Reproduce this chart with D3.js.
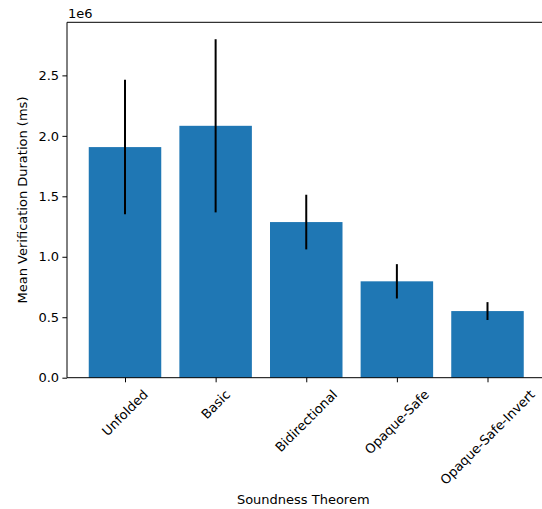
<!DOCTYPE html>
<html>
<head>
<meta charset="utf-8">
<script src="https://cdn.jsdelivr.net/npm/d3@7"></script>
<style>
  html, body { margin: 0; padding: 0; background: #fff; }
  svg { display: block; }
  text { font-family: "DejaVu Sans", sans-serif; fill: #000; }
</style>
</head>
<body>
<svg id="chart" width="542" height="509"></svg>
<script>
const categories = ["Unfolded", "Basic", "Bidirectional", "Opaque-Safe", "Opaque-Safe-Invert"];
const means = [1.907e6, 2.083e6, 1.287e6, 0.797e6, 0.551e6];
const errors = [0.556e6, 0.716e6, 0.226e6, 0.142e6, 0.074e6];
const yTicks = [0, 0.5e6, 1.0e6, 1.5e6, 2.0e6, 2.5e6];
const yTickLabels = ["0.0", "0.5", "1.0", "1.5", "2.0", "2.5"];
const xLabel = "Soundness Theorem";
const yLabel = "Mean Verification Duration (ms)";
const offsetText = "1e6";

(function () {
const svg = d3.select("#chart");
const pL = 67, pR = 545.5, pT = 22.3, pB = 377.7;
const fs = 13;
const tickLen = 4.6, pad = 3.3;

const n = categories.length;
const x = d3.scaleLinear().domain([-0.64, n - 1 + 0.64]).range([pL, pR]);
const ymax = d3.max(means.map((m, i) => m + errors[i])) * 1.05;
const y = d3.scaleLinear().domain([0, ymax]).range([pB, pT]);

// bars
svg.append("g").selectAll("rect").data(means).join("rect")
  .attr("x", (d, i) => x(i - 0.4))
  .attr("width", (d, i) => x(i + 0.4) - x(i - 0.4))
  .attr("y", d => y(d))
  .attr("height", d => y(0) - y(d))
  .attr("fill", "#1f77b4");

// error bars
svg.append("g").selectAll("line").data(means).join("line")
  .attr("x1", (d, i) => x(i)).attr("x2", (d, i) => x(i))
  .attr("y1", (d, i) => y(d + errors[i]))
  .attr("y2", (d, i) => y(d - errors[i]))
  .attr("stroke", "#000").attr("stroke-width", 2);

// y axis
const yAxis = d3.axisLeft(y).tickValues(yTicks)
  .tickFormat((d, i) => yTickLabels[i]).tickSize(tickLen).tickPadding(pad);
const gy = svg.append("g").attr("transform", `translate(${pL},0)`).call(yAxis);
gy.select(".domain").remove();
gy.selectAll("line").attr("stroke", "#000").attr("stroke-width", 1);
gy.selectAll("text").style("font-family", "DejaVu Sans").style("font-size", fs + "px").attr("fill", "#000");

// x axis
const xAxis = d3.axisBottom(x).tickValues(d3.range(n)).tickFormat("").tickSize(tickLen);
const gx = svg.append("g").attr("transform", `translate(0,${pB})`).call(xAxis);
gx.select(".domain").remove();
gx.selectAll("line").attr("stroke", "#000").attr("stroke-width", 1);

// rotated x labels
const labTop = pB + tickLen + pad + 2;
categories.forEach((c, i) => {
  const t = svg.append("text").text(c).style("font-size", fs + "px")
    .attr("text-anchor", "middle").attr("dominant-baseline", "central");
  const w = t.node().getComputedTextLength();
  const h = fs * 1.0;
  const half = (w + h) * Math.SQRT1_2 / 2;
  t.attr("transform", `translate(${x(i)},${labTop + half}) rotate(-45)`);
});

// spines
const spine = (x1, y1, x2, y2) => svg.append("line")
  .attr("x1", x1).attr("y1", y1).attr("x2", x2).attr("y2", y2)
  .attr("stroke", "#000").attr("stroke-width", 1);
spine(pL, pT, pL, pB);
spine(pL, pB, pR, pB);
spine(pL, pT, pR, pT);
spine(pR, pT, pR, pB);

// labels
svg.append("text").text(xLabel).style("font-size", fs + "px")
  .attr("text-anchor", "middle").attr("x", (pL + pR) / 2 - 3).attr("y", 504);
svg.append("text").text(yLabel).style("font-size", fs + "px")
  .attr("text-anchor", "middle")
  .attr("transform", `translate(27,${(pT + pB) / 2}) rotate(-90)`);
svg.append("text").text(offsetText).style("font-size", fs + "px")
  .attr("x", pL + 1).attr("y", 17.5);
})();
</script>
</body>
</html>
